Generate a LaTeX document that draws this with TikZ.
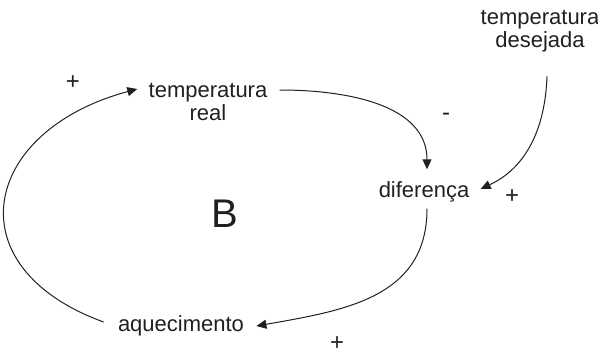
\documentclass[tikz,border=0pt]{standalone}
\usepackage{fontspec}
\setmainfont{Liberation Sans}
\usetikzlibrary{arrows.meta}
\definecolor{ink}{RGB}{35,31,32}

\begin{document}
\begin{tikzpicture}[x=0.5pt, y=-0.5pt,
  var/.style={text=ink, font=\fontsize{11}{11.5}\selectfont, align=center, inner sep=3pt},
  sinal/.style={text=ink, font=\fontsize{12}{12}\selectfont, inner sep=1pt},
  elo/.style={ink, line width=0.5pt, -{Triangle[length=5pt, width=4.5pt]}}]
  \useasboundingbox (0,0) rectangle (598,353);
  % Variáveis
  \node[var] (treal) at (208,102) {temperatura\\real};
  \node[var] (dese) at (540,31) {temperatura\\desejada};
  \node[var] (dif) at (424,192) {diferença};
  \node[var] (aque) at (181,326) {aquecimento};
  % Laço de balanço
  \node[text=ink, font=\fontsize{20}{20}\selectfont] (laco) at (225,214) {B};
  % Polaridades
  \node[sinal] (p1) at (73,83) {+};
  \node[sinal] (m1) at (446,117) {-};
  \node[sinal] (p2) at (512,197) {+};
  \node[sinal] (p3) at (337,344) {+};
  % Ligações
  \draw[elo] ([shift={(3pt,6pt)}]treal.east) to[out=0, in=90] ([shift={(1.5pt,3pt)}]dif.north);
  \draw[elo] ([shift={(3.5pt,-9pt)}]dese.south) to[out=-92, in=25] ([shift={(2.5pt,1.5pt)}]dif.east);
  \draw[elo] ([xshift=1.5pt]dif.south) to[out=-90, in=10, looseness=1.1] ([xshift=3pt]aque.east);
  \draw[elo] ([shift={(-4pt,2pt)}]aque.west) to[out=160, in=195, looseness=1.75] ([shift={(-2.5pt,6.5pt)}]treal.west);
\end{tikzpicture}
\end{document}
